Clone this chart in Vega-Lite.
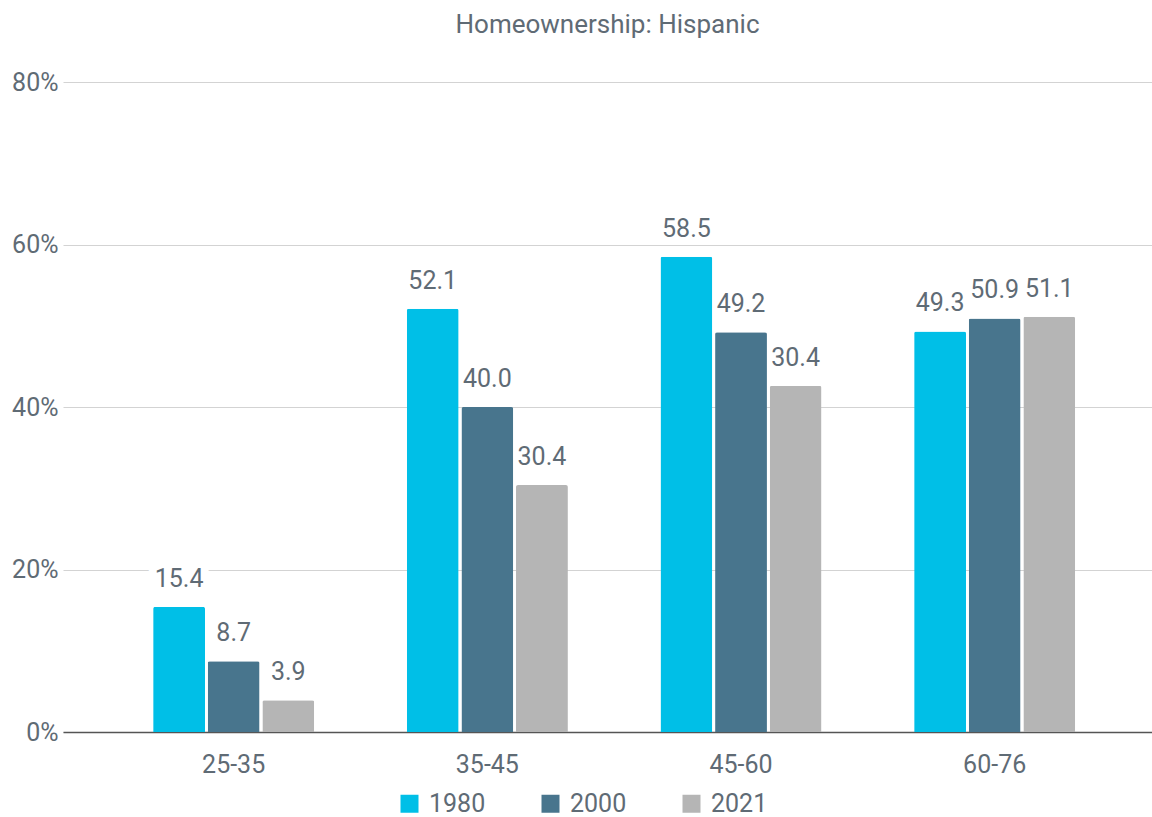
{
  "$schema": "https://vega.github.io/schema/vega-lite/v6.json",
  "autosize": {"type": "none"},
  "width": 1089,
  "height": 650,
  "padding": {"left": 63, "top": 82, "right": 0, "bottom": 85},
  "background": "white",
  "title": {
    "text": "Homeownership: Hispanic",
    "anchor": "middle",
    "fontSize": 26,
    "fontWeight": "normal",
    "color": "#5f6b75",
    "offset": 32
  },
  "config": {
    "font": "Roboto",
    "view": {"stroke": null}
  },
  "data": {
    "values": [
      {"age": "25-35", "year": "1980", "value": 15.4, "label": "15.4"},
      {"age": "25-35", "year": "2000", "value": 8.7, "label": "8.7"},
      {"age": "25-35", "year": "2021", "value": 3.9, "label": "3.9"},
      {"age": "35-45", "year": "1980", "value": 52.1, "label": "52.1"},
      {"age": "35-45", "year": "2000", "value": 40.0, "label": "40.0"},
      {"age": "35-45", "year": "2021", "value": 30.4, "label": "30.4"},
      {"age": "45-60", "year": "1980", "value": 58.5, "label": "58.5"},
      {"age": "45-60", "year": "2000", "value": 49.2, "label": "49.2"},
      {"age": "45-60", "year": "2021", "value": 42.6, "label": "30.4"},
      {"age": "60-76", "year": "1980", "value": 49.3, "label": "49.3"},
      {"age": "60-76", "year": "2000", "value": 50.9, "label": "50.9"},
      {"age": "60-76", "year": "2021", "value": 51.1, "label": "51.1"}
    ]
  },
  "encoding": {
    "x": {
      "field": "age",
      "type": "nominal",
      "sort": null,
      "scale": {"paddingInner": 0.365, "paddingOuter": 0.329, "align": 0.54},
      "axis": {
        "title": null,
        "labelAngle": 0,
        "labelFontSize": 25,
        "labelColor": "#5f6b75",
        "labelPadding": 20,
        "ticks": false,
        "domainColor": "#555555",
        "domainWidth": 1.5,
        "grid": false
      }
    },
    "xOffset": {
      "field": "year",
      "type": "nominal",
      "scale": {"paddingInner": 0.05, "paddingOuter": 0}
    },
    "y": {
      "field": "value",
      "type": "quantitative",
      "scale": {"domain": [0, 80]},
      "axis": {
        "title": null,
        "values": [0, 20, 40, 60, 80],
        "labelExpr": "datum.value + '%'",
        "labelFontSize": 25,
        "labelColor": "#5f6b75",
        "labelPadding": 5,
        "ticks": false,
        "domain": false,
        "gridColor": "#d3d3d3",
        "gridWidth": 1.2
      }
    }
  },
  "layer": [
    {
      "mark": {"type": "text", "baseline": "alphabetic", "dy": -20, "fontSize": 25, "fill": "white", "stroke": "white", "strokeWidth": 16, "strokeJoin": "round"},
      "encoding": {"text": {"field": "label"}}
    },
    {
      "mark": {"type": "bar", "cornerRadiusTopLeft": 2, "cornerRadiusTopRight": 2},
      "encoding": {
        "color": {
          "field": "year",
          "type": "nominal",
          "scale": {"domain": ["1980", "2000", "2021"], "range": ["#00bfe7", "#48758d", "#b5b5b5"]},
          "legend": {
            "title": null,
            "orient": "none",
            "legendX": 334,
            "legendY": 709,
            "direction": "horizontal",
            "symbolType": "square",
            "symbolSize": 324,
            "symbolStrokeWidth": 0,
            "labelFontSize": 25,
            "labelColor": "#5f6b75",
            "labelOffset": 7,
            "columnPadding": 52
          }
        }
      }
    },
    {
      "mark": {"type": "text", "baseline": "alphabetic", "dy": -20, "fontSize": 25, "color": "#5f6b75"},
      "encoding": {"text": {"field": "label"}}
    }
  ]
}
